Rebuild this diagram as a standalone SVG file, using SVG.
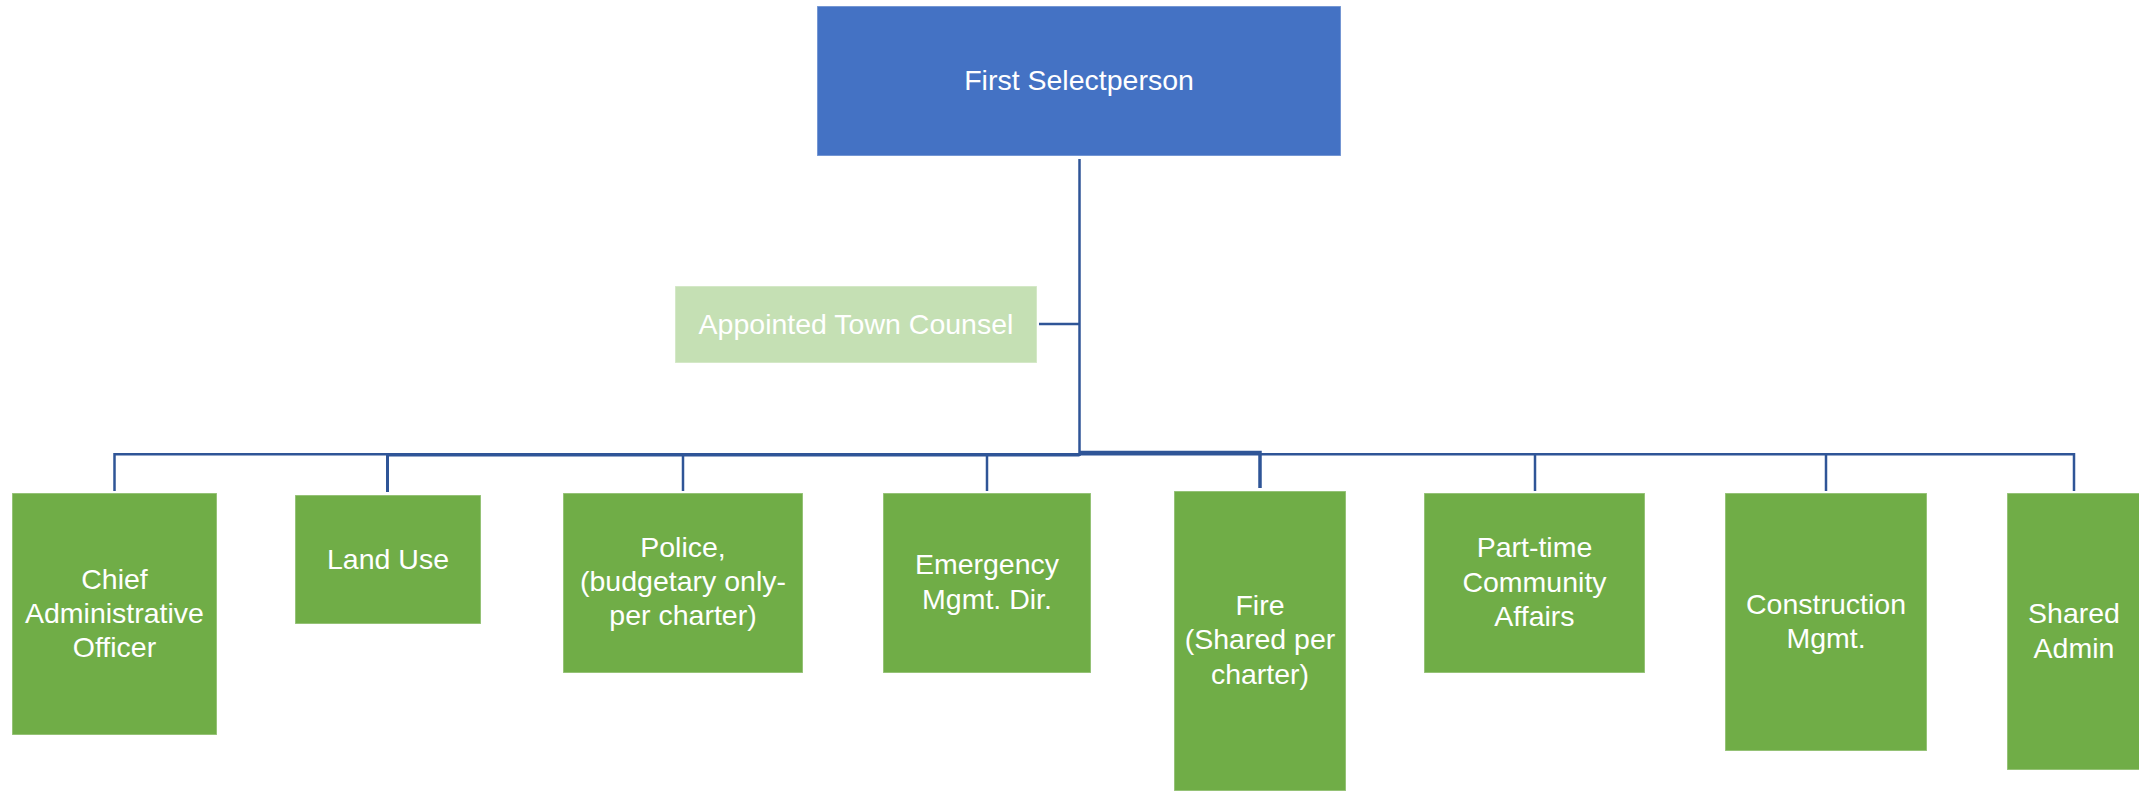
<svg xmlns="http://www.w3.org/2000/svg" width="2139" height="793" viewBox="0 0 2139 793">
<style>
.box{fill:#70AD47;stroke:#ffffff;stroke-opacity:0.35;stroke-width:1.5}
.top{fill:#4472C4;stroke:#ffffff;stroke-opacity:0.35;stroke-width:1.5}
.lite{fill:#C5E0B4;stroke:#ffffff;stroke-opacity:0.35;stroke-width:1.5}
.t{font-family:"Liberation Sans",Arial,sans-serif;font-size:28.5px;fill:#ffffff;text-anchor:middle}
.c{fill:none;stroke:#2F5597;stroke-linejoin:miter}
</style>
<rect width="2139" height="793" fill="#ffffff"/>
<g id="connectors">
<path class="c" stroke-width="2.5" d="M114.5,491 V454.3 H2074 V491"/>
<path class="c" stroke-width="3" d="M387.5,492 V455 H1079.5"/>
<path class="c" stroke-width="3.5" d="M1079.5,452.5 H1260 V488"/>
<path class="c" stroke-width="2.5" d="M1079.5,159 V456"/>
<path class="c" stroke-width="2.5" d="M1039,324 H1079.5"/>
<path class="c" stroke-width="2.5" d="M683,455 V491"/>
<path class="c" stroke-width="2.5" d="M987,455 V491"/>
<path class="c" stroke-width="2.5" d="M1535,454 V491"/>
<path class="c" stroke-width="2.5" d="M1826,454 V491"/>
</g>
<g id="first-selectperson">
<rect class="top" x="817" y="6" width="524" height="150"/>
<text class="t" x="1079" y="90">First Selectperson</text>
</g>
<g id="appointed-town-counsel">
<rect class="lite" x="675" y="286" width="362" height="77"/>
<text class="t" x="856" y="334">Appointed Town Counsel</text>
</g>
<g id="chief-administrative-officer">
<rect class="box" x="12" y="493" width="205" height="242"/>
<text class="t" x="114.5" y="589">Chief</text>
<text class="t" x="114.5" y="623">Administrative</text>
<text class="t" x="114.5" y="657">Officer</text>
</g>
<g id="land-use">
<rect class="box" x="295" y="495" width="186" height="129"/>
<text class="t" x="388" y="569">Land Use</text>
</g>
<g id="police">
<rect class="box" x="563" y="493" width="240" height="180"/>
<text class="t" x="683" y="557">Police,</text>
<text class="t" x="683" y="591">(budgetary only-</text>
<text class="t" x="683" y="625">per charter)</text>
</g>
<g id="emergency-mgmt">
<rect class="box" x="883" y="493" width="208" height="180"/>
<text class="t" x="987" y="574">Emergency</text>
<text class="t" x="987" y="609">Mgmt. Dir.</text>
</g>
<g id="fire">
<rect class="box" x="1174" y="491" width="172" height="300"/>
<text class="t" x="1260" y="615">Fire</text>
<text class="t" x="1260" y="649">(Shared per</text>
<text class="t" x="1260" y="684">charter)</text>
</g>
<g id="part-time-community-affairs">
<rect class="box" x="1424" y="493" width="221" height="180"/>
<text class="t" x="1534.5" y="557">Part-time</text>
<text class="t" x="1534.5" y="591.5">Community</text>
<text class="t" x="1534.5" y="626">Affairs</text>
</g>
<g id="construction-mgmt">
<rect class="box" x="1725" y="493" width="202" height="258"/>
<text class="t" x="1826" y="614">Construction</text>
<text class="t" x="1826" y="648">Mgmt.</text>
</g>
<g id="shared-admin">
<rect class="box" x="2007" y="493" width="134" height="277"/>
<text class="t" x="2074" y="623">Shared</text>
<text class="t" x="2074" y="658">Admin</text>
</g>
</svg>
